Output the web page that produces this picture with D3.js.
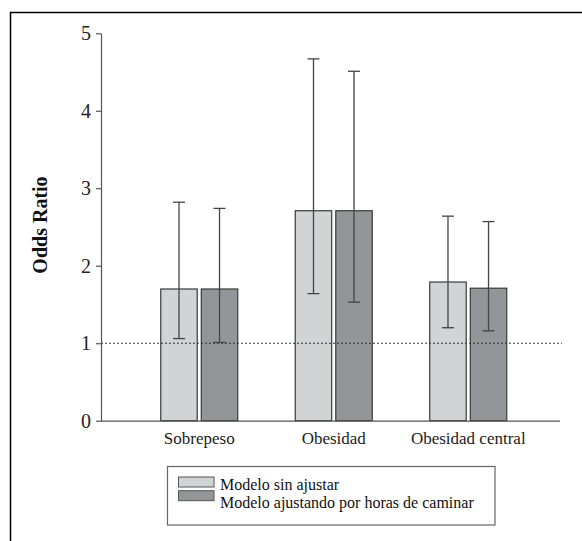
<!DOCTYPE html>
<html><head><meta charset="utf-8">
<script src="https://cdn.jsdelivr.net/npm/d3@7"></script>
<style>body{margin:0;background:#fff}svg{display:block}text{font-family:"Liberation Serif","Times New Roman",serif}</style>
</head><body>
<svg id="c" width="582" height="541"></svg>
<script>
const categories = ["Sobrepeso", "Obesidad", "Obesidad central"];
const seriesNames = ["Modelo sin ajustar", "Modelo ajustando por horas de caminar"];
const orUnadjusted = [1.70, 2.71, 1.79];
const lowUnadjusted = [1.06, 1.64, 1.20];
const highUnadjusted = [2.82, 4.67, 2.64];
const orAdjusted = [1.70, 2.71, 1.71];
const lowAdjusted = [1.01, 1.53, 1.16];
const highAdjusted = [2.74, 4.51, 2.57];
const yTicks = [0, 1, 2, 3, 4, 5];
const colors = ["#d2d3d5", "#939598"];

const svg = d3.select("#c");
// outer frame (top and left visible)
svg.append("path").attr("d", "M10.5,541 V12.5 H582").attr("fill", "none").attr("stroke", "#000").attr("stroke-width", 1.5);

const y = d3.scaleLinear().domain([0, 5]).range([420.7, 33.3]);
const x = d3.scaleBand().domain(categories).range([132, 535.5]).padding(0);
const xs = d3.scaleBand().domain([0, 1]).range([-38.5, 38.5]).paddingInner(0.1);

const data = categories.map((c, i) => [
  {c, s: 0, v: orUnadjusted[i], lo: lowUnadjusted[i], hi: highUnadjusted[i]},
  {c, s: 1, v: orAdjusted[i], lo: lowAdjusted[i], hi: highAdjusted[i]}
]).flat();

// bars
svg.append("g").selectAll("rect").data(data).join("rect")
  .attr("x", d => x(d.c) + x.bandwidth() / 2 + xs(d.s))
  .attr("y", d => y(d.v))
  .attr("width", xs.bandwidth())
  .attr("height", d => y(0) - y(d.v))
  .attr("fill", d => colors[d.s])
  .attr("stroke", "#3a3a3a").attr("stroke-width", 1.2);

// reference line at 1
svg.append("line").attr("x1", 101).attr("x2", 562).attr("y1", y(1)).attr("y2", y(1))
  .attr("stroke", "#333").attr("stroke-width", 1).attr("stroke-dasharray", "2,2");

// error bars
const eb = svg.append("g").attr("stroke", "#444").attr("stroke-width", 1.3);
data.forEach(d => {
  const cx = x(d.c) + x.bandwidth() / 2 + xs(d.s) + xs.bandwidth() / 2;
  eb.append("line").attr("x1", cx).attr("x2", cx).attr("y1", y(d.lo)).attr("y2", y(d.hi));
  eb.append("line").attr("x1", cx - 6).attr("x2", cx + 6).attr("y1", y(d.lo)).attr("y2", y(d.lo));
  eb.append("line").attr("x1", cx - 6).attr("x2", cx + 6).attr("y1", y(d.hi)).attr("y2", y(d.hi));
});

// y axis
const ya = svg.append("g").attr("transform", "translate(101,0)")
  .call(d3.axisLeft(y).tickValues(yTicks).tickSize(5).tickSizeOuter(0).tickPadding(5).tickFormat(d3.format("d")));
ya.selectAll("path,line").attr("stroke", "#555").attr("stroke-width", 1.2);
ya.selectAll("text").attr("font-size", 20).attr("fill", "#222").attr("font-family", "Liberation Serif");

// x axis
const xa = svg.append("g").attr("transform", `translate(0,${y(0)})`)
  .call(d3.axisBottom(x).tickSize(0).tickSizeOuter(0).tickPadding(11));
xa.select(".domain").attr("d", `M101,0.5H560`).attr("stroke", "#555").attr("stroke-width", 1.2);
xa.selectAll("text").attr("font-size", 17).attr("fill", "#222").attr("font-family", "Liberation Serif");

// y label
svg.append("text").attr("transform", "translate(47,225) rotate(-90)")
  .attr("text-anchor", "middle").attr("font-size", 20).attr("font-weight", "bold").attr("fill", "#111")
  .text("Odds Ratio");

// legend
const lg = svg.append("g");
lg.append("rect").attr("x", 167.5).attr("y", 466.5).attr("width", 327.5).attr("height", 58.5)
  .attr("fill", "#fff").attr("stroke", "#666").attr("stroke-width", 1.2);
seriesNames.forEach((n, i) => {
  lg.append("rect").attr("x", 178.5).attr("y", 477 + i * 13.7).attr("width", 35.5).attr("height", 10)
    .attr("fill", colors[i]).attr("stroke", "#555").attr("stroke-width", 1);
  lg.append("text").attr("x", 220).attr("y", 490 + i * 18).attr("font-size", 16).attr("fill", "#111").text(n);
});
</script>
</body></html>
